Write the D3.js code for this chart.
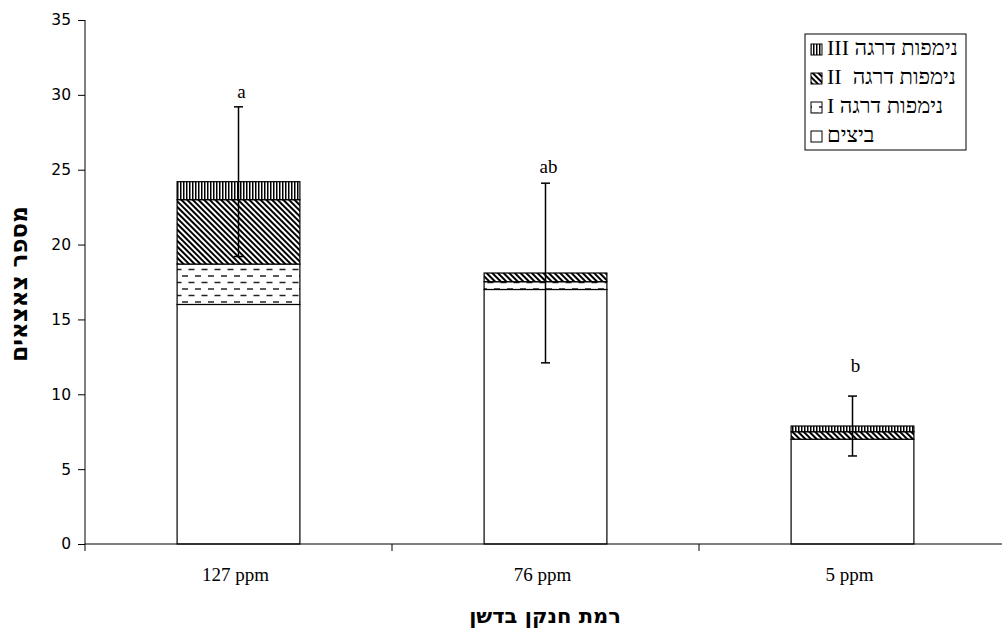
<!DOCTYPE html>
<html>
<head>
<meta charset="utf-8">
<script src="https://cdn.jsdelivr.net/npm/d3@7"></script>
<style>
  body { margin: 0; background: #fff; }
</style>
</head>
<body>
<svg id="chart" width="1002" height="629"></svg>
<script>
// data
const categories = ["127 ppm", "76 ppm", "5 ppm"];
const seriesKeys = ["eggs", "nymph1", "nymph2", "nymph3"];
const seriesNames = ["ביצים", "נימפות דרגה I", "נימפות דרגה  II", "נימפות דרגה III"];
const eggs = [16, 17, 7];
const nymph1 = [2.7, 0.52, 0];
const nymph2 = [4.3, 0.58, 0.5];
const nymph3 = [1.2, 0, 0.38];
const errors = [5, 6, 2];
const letters = ["a", "ab", "b"];
const letterY = [29.8, 24.8, 11.5];
const yTicks = [0, 5, 10, 15, 20, 25, 30, 35];
const yTitle = "מספר צאצאים";
const xTitle = "רמת חנקן בדשן";

const margin = { left: 85, top: 20, bottom: 544, right: 1006 };

const svg = d3.select("#chart");

const rows = categories.map((c, i) => ({
  cat: c, eggs: eggs[i], nymph1: nymph1[i], nymph2: nymph2[i], nymph3: nymph3[i]
}));

const x = d3.scaleBand()
  .domain(categories)
  .range([margin.left, margin.right])
  .paddingInner(0.6)
  .paddingOuter(0.3);

const y = d3.scaleLinear()
  .domain([0, 35])
  .range([margin.bottom, margin.top]);

// hatch patterns
const defs = svg.append("defs");

// nymph I: staggered dashes
const p1 = defs.append("pattern").attr("id", "pat1")
  .attr("patternUnits", "userSpaceOnUse").attr("width", 13).attr("height", 13);
p1.append("rect").attr("width", 13).attr("height", 13).attr("fill", "#fff");
p1.append("line").attr("x1", 0).attr("x2", 6).attr("y1", 3).attr("y2", 3)
  .attr("stroke", "#222").attr("stroke-width", 1.5);
p1.append("line").attr("x1", 6.5).attr("x2", 12.5).attr("y1", 9.5).attr("y2", 9.5)
  .attr("stroke", "#222").attr("stroke-width", 1.5);

// nymph II: dense downward diagonals
const p2 = defs.append("pattern").attr("id", "pat2")
  .attr("patternUnits", "userSpaceOnUse").attr("width", 4).attr("height", 4)
  .attr("patternTransform", "rotate(45)");
p2.append("rect").attr("width", 4).attr("height", 4).attr("fill", "#fff");
p2.append("rect").attr("width", 4).attr("height", 2).attr("fill", "#000");

// nymph III: narrow verticals
const p3 = defs.append("pattern").attr("id", "pat3")
  .attr("patternUnits", "userSpaceOnUse").attr("width", 3).attr("height", 3);
p3.append("rect").attr("width", 3).attr("height", 3).attr("fill", "#fff");
p3.append("rect").attr("width", 1.5).attr("height", 3).attr("fill", "#000");

const fills = {
  eggs: "#fff",
  nymph1: "url(#pat1)",
  nymph2: "url(#pat2)",
  nymph3: "url(#pat3)"
};

// stacked bars
const stacked = d3.stack().keys(seriesKeys)(rows);

svg.append("g").selectAll("g")
  .data(stacked)
  .join("g")
  .attr("fill", d => fills[d.key])
  .selectAll("rect")
  .data(d => d.filter(s => s[1] - s[0] > 0))
  .join("rect")
  .attr("x", d => x(d.data.cat))
  .attr("y", d => y(d[1]))
  .attr("width", x.bandwidth())
  .attr("height", d => y(d[0]) - y(d[1]))
  .attr("stroke", "#000")
  .attr("stroke-width", 1.2);

// error bars
const totals = rows.map(r => seriesKeys.reduce((s, k) => s + r[k], 0));
const eb = svg.append("g").attr("stroke", "#000").attr("stroke-width", 1.5);
categories.forEach((c, i) => {
  const cx = x(c) + x.bandwidth() / 2;
  const lo = y(totals[i] - errors[i]);
  const hi = y(totals[i] + errors[i]);
  eb.append("line").attr("x1", cx).attr("x2", cx).attr("y1", lo).attr("y2", hi);
  eb.append("line").attr("x1", cx - 4.5).attr("x2", cx + 4.5).attr("y1", hi).attr("y2", hi);
  eb.append("line").attr("x1", cx - 4.5).attr("x2", cx + 4.5).attr("y1", lo).attr("y2", lo);
});

// significance letters
svg.append("g").selectAll("text")
  .data(letters)
  .join("text")
  .attr("x", (d, i) => x(categories[i]) + x.bandwidth() / 2 + 3)
  .attr("y", (d, i) => y(letterY[i]))
  .attr("text-anchor", "middle")
  .style("font-family", "'Liberation Serif', serif")
  .style("font-size", "19px")
  .text(d => d);

// y axis
const yAxis = svg.append("g")
  .attr("transform", `translate(${margin.left},0)`)
  .call(d3.axisLeft(y).tickValues(yTicks).tickSize(7).tickPadding(7));
yAxis.select(".domain").attr("d", `M0,${margin.top}V${margin.bottom}`);
yAxis.selectAll("text")
  .style("font-family", "'DejaVu Sans', sans-serif")
  .style("font-size", "15.5px")
  .attr("fill", "#000");

// x axis: ticks on category boundaries
const bounds = categories.map(c => x(c) - x.step() * 0.3).concat([margin.right]);
const xAxis = svg.append("g").attr("transform", `translate(0,${margin.bottom})`);
xAxis.append("line").attr("x1", margin.left).attr("x2", 1002)
  .attr("stroke", "#000").attr("stroke-width", 1.2);
xAxis.selectAll("line.tk")
  .data(bounds)
  .join("line")
  .attr("class", "tk")
  .attr("x1", d => d).attr("x2", d => d)
  .attr("y1", 0).attr("y2", 7)
  .attr("stroke", "#000");
xAxis.selectAll("text")
  .data(categories)
  .join("text")
  .attr("x", d => x(d) + x.bandwidth() / 2 - 3)
  .attr("y", 37)
  .attr("text-anchor", "middle")
  .style("font-family", "'Liberation Serif', serif")
  .style("font-size", "19px")
  .text(d => d);

// axis titles
svg.append("text")
  .attr("transform", "translate(27,284) rotate(-90)")
  .attr("text-anchor", "middle")
  .style("font-family", "'DejaVu Sans', sans-serif")
  .style("font-weight", "bold")
  .style("font-size", "23px")
  .text(yTitle);

svg.append("text")
  .attr("x", 545)
  .attr("y", 623)
  .attr("text-anchor", "middle")
  .style("font-family", "'DejaVu Sans', sans-serif")
  .style("font-weight", "bold")
  .style("font-size", "21px")
  .text(xTitle);

// legend
const legend = svg.append("g");
legend.append("rect")
  .attr("x", 805).attr("y", 34).attr("width", 161).attr("height", 116)
  .attr("fill", "#fff").attr("stroke", "#000").attr("stroke-width", 1);

const legendOrder = [3, 2, 1, 0];
legendOrder.forEach((si, row) => {
  const ly = 55 + row * 29;
  legend.append("rect")
    .attr("x", 811).attr("y", ly - 11).attr("width", 11).attr("height", 11)
    .attr("fill", fills[seriesKeys[si]])
    .attr("stroke", "#000").attr("stroke-width", 1);
  legend.append("text")
    .attr("x", 827).attr("y", ly)
    .style("font-family", "'Liberation Serif', serif")
    .style("font-size", "22px")
    .style("white-space", "pre")
    .text("\u202B" + seriesNames[si] + "\u202C");
});
</script>
</body>
</html>
